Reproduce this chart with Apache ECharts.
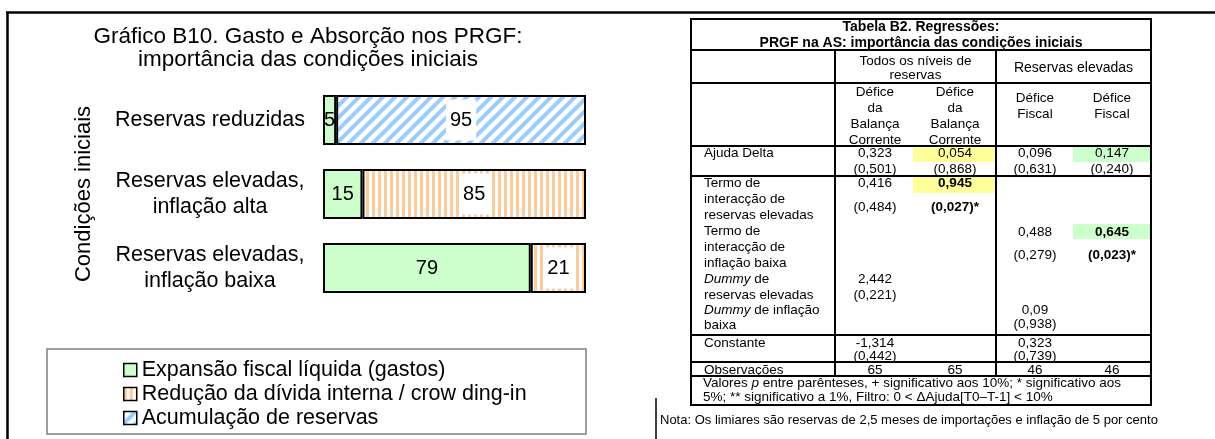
<!DOCTYPE html>
<html>
<head>
<meta charset="utf-8">
<script src="https://cdn.jsdelivr.net/npm/echarts@6/dist/echarts.min.js"></script>
<style>
  html, body { margin: 0; padding: 0; background: #fff; }
  #chart { width: 1215px; height: 439px; }
</style>
</head>
<body>
<div id="chart"></div>
<script>
// ---- chart data ----
const chartTitle = 'Gráfico B10. Gasto e Absorção nos PRGF:\nimportância das condições iniciais';
const axisName = 'Condições iniciais';
const categories = ['Reservas reduzidas', 'Reservas elevadas,\ninflação alta', 'Reservas elevadas,\ninflação baixa'];
const seriesNames = ['Expansão fiscal líquida (gastos)', 'Redução da dívida interna / crow ding-in', 'Acumulação de reservas'];
const gastos = [5, 15, 79];
const reducaoDivida = [null, 85, 21];
const acumulacaoReservas = [95, null, null];

// ---- table data ----
const tableTitle = ['Tabela B2. Regressões:', 'PRGF na AS: importância das condições iniciais'];
const groupHeaders = [['Todos os níveis de', 'reservas'], ['Reservas elevadas']];
const colHeaders = [
  ['Défice', 'da', 'Balança', 'Corrente'],
  ['Défice', 'da', 'Balança', 'Corrente'],
  ['Défice', 'Fiscal'],
  ['Défice', 'Fiscal']
];
const rowLabels = [
  ['Ajuda Delta'],
  ['Termo de', 'interacção de', 'reservas elevadas'],
  ['Termo de', 'interacção de', 'inflação baixa'],
  ['{i|Dummy} de', 'reservas elevadas'],
  ['{i|Dummy} de inflação', 'baixa'],
  ['Constante'],
  ['Observações']
];
const coefs = [
  ['0,323', '0,054', '0,096', '0,147'],
  ['0,416', '0,945', '', ''],
  ['', '', '0,488', '0,645'],
  ['2,442', '', '', ''],
  ['', '', '0,09', ''],
  ['-1,314', '', '0,323', ''],
  ['65', '65', '46', '46']
];
const pValues = [
  ['(0,501)', '(0,868)', '(0,631)', '(0,240)'],
  ['(0,484)', '(0,027)*', '', ''],
  ['', '', '(0,279)', '(0,023)*'],
  ['(0,221)', '', '', ''],
  ['', '', '(0,938)', ''],
  ['(0,442)', '', '(0,739)', ''],
  ['', '', '', '']
];
const boldCells = [[1, 1], [2, 3]];
const tableNotes = [
  'Valores {i|p} entre parênteses, + significativo aos 10%; * significativo aos',
  '5%; ** significativo a 1%, Filtro: 0 < ΔAjuda[T0–T-1] < 10%'
];
const footNote = 'Nota: Os limiares são reservas de 2,5 meses de importações e inflação de 5 por cento';

// ---- layout ----
const FONT = "'Liberation Sans', Arial, sans-serif";
const T = { left: 691, right: 1151, split1: 835, split2: 996, top: 19, bottom: 405 };
const colX = [875, 955, 1035, 1112];
const labelX = 704;
const hLines = [50, 83, 146, 176, 335, 362, 376];
const labelLineY = [[153], [183, 199, 215], [231, 247, 263], [279, 295], [310, 325], [343], [370]];
const coefY = [153, 183, 232, 279, 310, 343, 370];
const pY = [169, 207, 255, 295, 324, 356, null];
const highlights = [
  { x1: 913, x2: 995, y1: 147, y2: 162, color: '#ffff99' },
  { x1: 1073, x2: 1150, y1: 147, y2: 162, color: '#ccffcc' },
  { x1: 913, x2: 995, y1: 177, y2: 193, color: '#ffff99' },
  { x1: 1073, x2: 1150, y1: 224, y2: 239, color: '#ccffcc' }
];

function verticalStripes() {
  const c = document.createElement('canvas');
  c.width = 6; c.height = 6;
  const g = c.getContext('2d');
  g.fillStyle = '#fff'; g.fillRect(0, 0, 6, 6);
  g.fillStyle = '#ffcc99'; g.fillRect(0, 0, 3, 6);
  return c;
}

function diagonalStripes() {
  const s = 12;
  const c = document.createElement('canvas');
  c.width = s; c.height = s;
  const g = c.getContext('2d');
  g.fillStyle = '#fff'; g.fillRect(0, 0, s, s);
  g.strokeStyle = '#99ccff'; g.lineWidth = 4;
  [[-s, s, s, -s], [0, s, s, 0], [0, 2 * s, 2 * s, 0]].forEach(([a, b, c2, d]) => {
    g.beginPath(); g.moveTo(a, b); g.lineTo(c2, d); g.stroke();
  });
  return c;
}

function barSeries(name, values, fill, boxed) {
  return {
    name, type: 'bar', stack: 'total', data: values, barWidth: 50,
    itemStyle: { color: fill, borderColor: '#000', borderWidth: 2 },
    label: {
      show: true, position: 'inside', fontSize: 20, color: '#000', fontFamily: FONT,
      backgroundColor: boxed ? '#fff' : 'transparent',
      padding: boxed ? [11, 4, 10, 4] : 0
    },
    emphasis: { disabled: true }
  };
}

const line = (x1, y1, x2, y2, w) => ({
  type: 'line', silent: true, z: 10,
  shape: { x1, y1, x2, y2 }, style: { stroke: '#000', lineWidth: w || 2 }
});
const text = (x, y, str, extra) => ({
  type: 'text', silent: true, z: 11,
  style: Object.assign({
    text: str, x, y, align: 'center', verticalAlign: 'middle',
    fontSize: 13.5, fontFamily: FONT, fill: '#000',
    rich: { i: { fontStyle: 'italic', fontSize: 13.5, fontFamily: FONT, fill: '#000' } }
  }, extra || {})
});

const graphics = [];
// frame of the page
graphics.push(line(6, 12.5, 1215, 12.5, 2.5));
graphics.push(line(7.5, 12, 7.5, 439, 2.5));
graphics.push(line(656, 398, 656, 439, 1.5));
// legend box
graphics.push({ type: 'rect', silent: true, z: 1, shape: { x: 47, y: 349, width: 539, height: 85 },
  style: { fill: 'none', stroke: '#7f7f7f', lineWidth: 1.5 } });

// table highlights
highlights.forEach(h => graphics.push({ type: 'rect', silent: true, z: 9,
  shape: { x: h.x1, y: h.y1, width: h.x2 - h.x1, height: h.y2 - h.y1 }, style: { fill: h.color } }));
// table grid
graphics.push({ type: 'rect', silent: true, z: 10, shape: { x: T.left, y: T.top, width: T.right - T.left, height: T.bottom - T.top },
  style: { fill: 'none', stroke: '#000', lineWidth: 2 } });
hLines.forEach(y => graphics.push(line(T.left, y, T.right, y)));
graphics.push(line(T.split1, hLines[0], T.split1, hLines[hLines.length - 1]));
graphics.push(line(T.split2, hLines[0], T.split2, hLines[hLines.length - 1]));

// table texts
const tableMid = (T.left + T.right) / 2;
graphics.push(text(tableMid, 27, tableTitle[0], { fontWeight: 'bold', fontSize: 14 }));
graphics.push(text(tableMid, 43, tableTitle[1], { fontWeight: 'bold', fontSize: 14 }));
groupHeaders[0].forEach((s, i) => graphics.push(text((T.split1 + T.split2) / 2, 61 + i * 14, s)));
graphics.push(text((T.split2 + T.right) / 2, 68, groupHeaders[1][0], { fontSize: 14 }));
colHeaders.forEach((lines, c) => {
  const y0 = lines.length === 4 ? 92 : 98;
  lines.forEach((s, i) => graphics.push(text(colX[c], y0 + i * 16, s)));
});
rowLabels.forEach((lines, r) => {
  lines.forEach((s, i) => graphics.push(text(labelX, labelLineY[r][i], s, { align: 'left' })));
  coefs[r].forEach((s, c) => {
    if (!s) return;
    const bold = boldCells.some(b => b[0] === r && b[1] === c);
    graphics.push(text(colX[c], coefY[r], s, bold ? { fontWeight: 'bold' } : {}));
  });
  pValues[r].forEach((s, c) => {
    if (!s) return;
    const bold = boldCells.some(b => b[0] === r && b[1] === c);
    graphics.push(text(colX[c], pY[r], s, bold ? { fontWeight: 'bold' } : {}));
  });
});
tableNotes.forEach((s, i) => graphics.push(text(703, 383 + i * 14, s, {
  align: 'left', fontSize: 13.5
})));
graphics.push(text(660, 420, footNote, { align: 'left', fontSize: 13 }));

const chart = echarts.init(document.getElementById('chart'));

chart.setOption({
  animation: false,
  backgroundColor: '#fff',
  textStyle: { fontFamily: FONT, color: '#000' },
  title: {
    text: chartTitle, left: 303, top: 20, textAlign: 'center',
    textStyle: { fontSize: 22.5, lineHeight: 23, fontWeight: 'normal', color: '#000', fontFamily: FONT }
  },
  legend: {
    orient: 'vertical', left: 118, top: 354, icon: 'rect',
    itemWidth: 13, itemHeight: 13, itemGap: 2, selectedMode: false,
    textStyle: { fontSize: 21.5, lineHeight: 22, color: '#000', fontFamily: FONT },
    itemStyle: { borderColor: '#000', borderWidth: 1.5 },
    data: seriesNames
  },
  grid: { left: 323, right: 629, top: 83, bottom: 134, outerBoundsMode: 'none' },
  xAxis: { type: 'value', min: 0, max: 100, show: false },
  yAxis: {
    type: 'category', data: categories, inverse: true,
    axisLine: { show: false }, axisTick: { show: false }, splitLine: { show: false },
    axisLabel: { margin: 113, align: 'center', fontSize: 21.5, lineHeight: 26, color: '#000', fontFamily: FONT },
    name: axisName, nameLocation: 'middle', nameGap: 228,
    nameTextStyle: { fontSize: 22, color: '#000', fontFamily: FONT }
  },
  series: [
    barSeries(seriesNames[0], gastos, '#ccffcc', false),
    barSeries(seriesNames[1], reducaoDivida, { image: verticalStripes(), repeat: 'repeat' }, true),
    barSeries(seriesNames[2], acumulacaoReservas, { image: diagonalStripes(), repeat: 'repeat' }, true)
  ],
  graphic: graphics
});
</script>
</body>
</html>
